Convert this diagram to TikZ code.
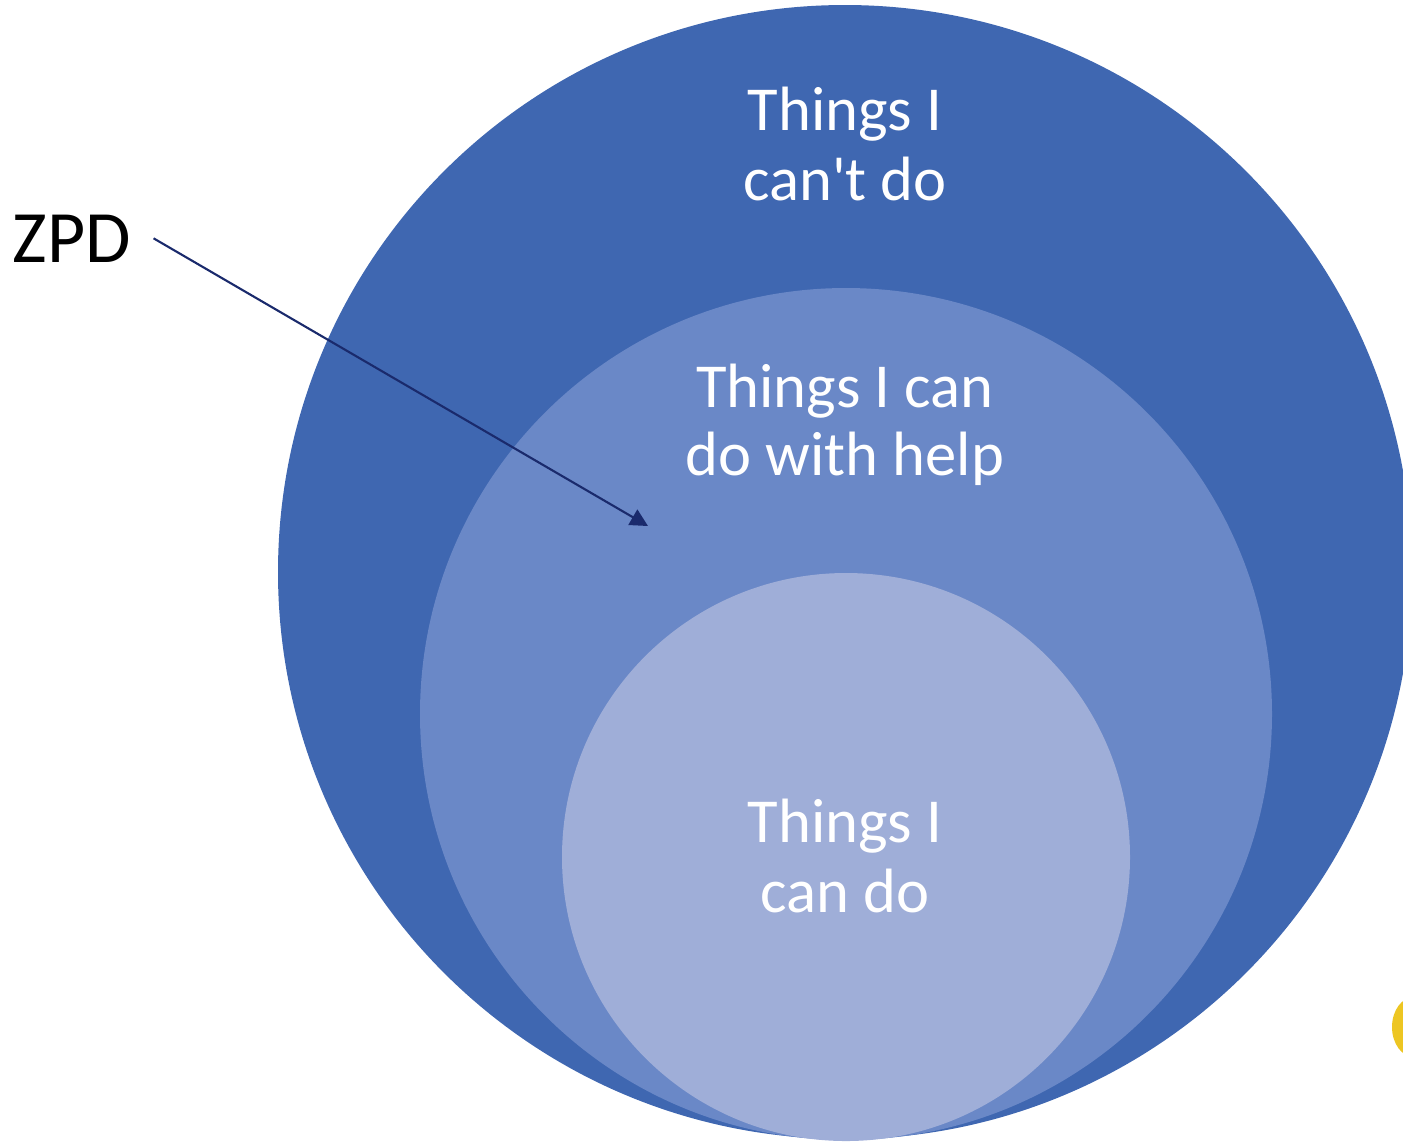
\documentclass[tikz,border=0pt]{standalone}
\usepackage{fontspec}
\setmainfont{Carlito}
\usetikzlibrary{arrows.meta}
\definecolor{outerblue}{HTML}{3F67B1}
\definecolor{midblue}{HTML}{6A88C7}
\definecolor{innerblue}{HTML}{9FAED8}
\definecolor{arrownavy}{HTML}{1A2A6C}
\definecolor{badge}{HTML}{EDC622}
\begin{document}
\begin{tikzpicture}[x=0.01cm,y=-0.01cm,
	lbl/.style={text=white,font=\fontsize{17.8}{20}\selectfont,inner sep=0pt,anchor=base}]
	\useasboundingbox (0,0) rectangle (1403,1141);
	\clip (0,0) rectangle (1403,1141);
	\path (845,572) coordinate (O1)
	(846,714) coordinate (O2)
	(846,857) coordinate (O3)
	(648,526) coordinate (tip);
	\fill[outerblue] (O1) circle (567);
	\fill[midblue] (O2) circle (426);
	\fill[innerblue] (O3) circle (284);
	\foreach \n/\y/\t in {a/130/Things I, b/200/can\textquotesingle t do, c/407/Things I can,
		d/475/do with help, e/842/Things I, f/912/can do}{
		\node[lbl] (\n) at (845,\y) {\t};
	}
	\node[font=\fontsize{21}{24}\selectfont,inner sep=0pt,anchor=base west] (zpd) at (12,262) {ZPD};
	\draw[arrownavy,line width=0.6pt,-{Triangle[length=5pt,width=5pt]}] ([xshift=0.22cm]zpd.east) -- (tip);
	\fill[badge] (1414,1027) ellipse (22 and 30);
\end{tikzpicture}
\end{document}
